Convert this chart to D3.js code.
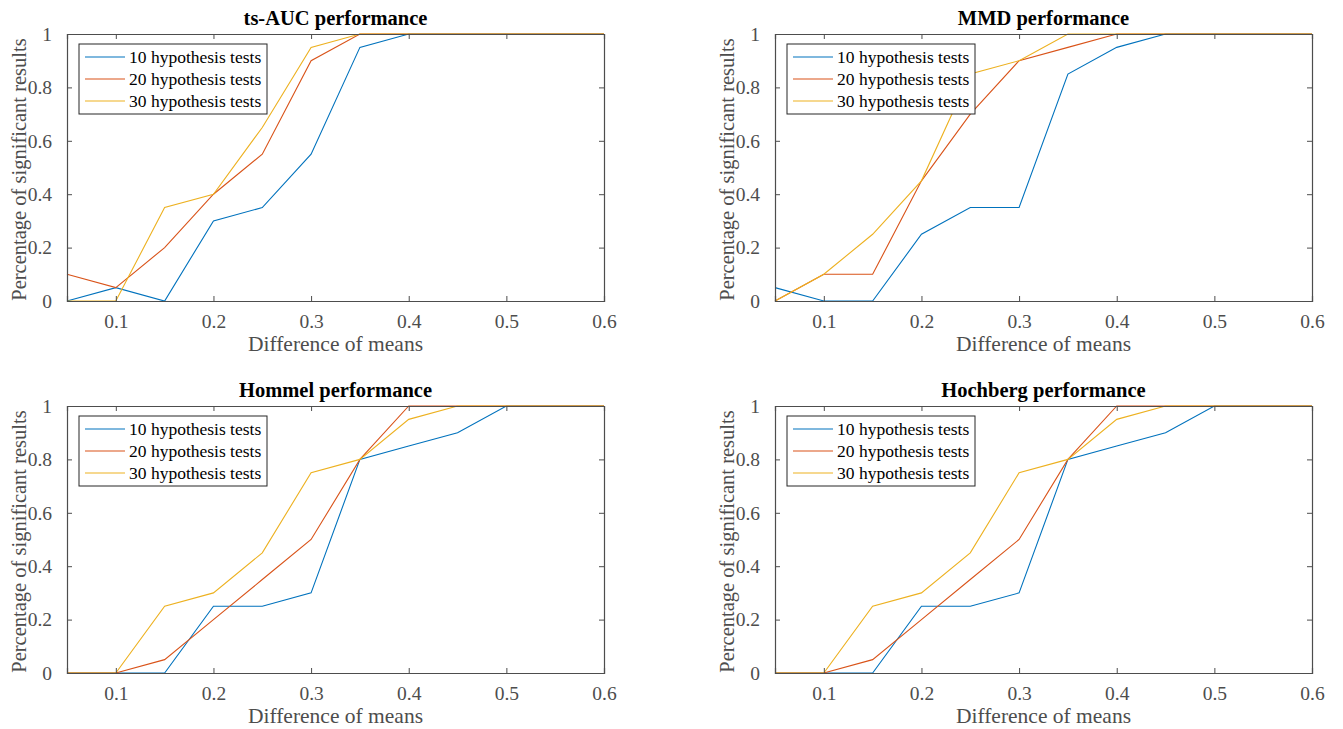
<!DOCTYPE html>
<html>
<head>
<meta charset="utf-8">
<script src="https://cdn.jsdelivr.net/npm/d3@7.9.0/dist/d3.min.js"></script>
<style>
  body { margin: 0; background: #fff; }
  svg { display: block; }
  svg text { font-family: "Liberation Serif", "Times New Roman", serif; }
</style>
</head>
<body>
<svg id="chart" width="1343" height="729"></svg>
<script>
// x values shared by every panel
const diffs = [0.05, 0.1, 0.15, 0.2, 0.25, 0.3, 0.35, 0.4, 0.45, 0.5, 0.55, 0.6];
const seriesNames = ['10 hypothesis tests', '20 hypothesis tests', '30 hypothesis tests'];
const colors = ['#0072BD', '#D95319', '#EDB120'];
const xTicks = [0.1, 0.2, 0.3, 0.4, 0.5, 0.6];
const yTicks = [0, 0.2, 0.4, 0.6, 0.8, 1];

// values
const aucTen    = [0, 0.05, 0, 0.3, 0.35, 0.55, 0.95, 1, 1, 1, 1, 1];
const aucTwenty = [0.1, 0.05, 0.2, 0.4, 0.55, 0.9, 1, 1, 1, 1, 1, 1];
const aucThirty = [0, 0, 0.35, 0.4, 0.65, 0.95, 1, 1, 1, 1, 1, 1];

const mmdTen    = [0.05, 0, 0, 0.25, 0.35, 0.35, 0.85, 0.95, 1, 1, 1, 1];
const mmdTwenty = [0, 0.1, 0.1, 0.45, 0.7, 0.9, 0.95, 1, 1, 1, 1, 1];
const mmdThirty = [0, 0.1, 0.25, 0.45, 0.85, 0.9, 1, 1, 1, 1, 1, 1];

const hommelTen    = [0, 0, 0, 0.25, 0.25, 0.3, 0.8, 0.85, 0.9, 1, 1, 1];
const hommelTwenty = [0, 0, 0.05, 0.2, 0.35, 0.5, 0.8, 1, 1, 1, 1, 1];
const hommelThirty = [0, 0, 0.25, 0.3, 0.45, 0.75, 0.8, 0.95, 1, 1, 1, 1];

const hochTen    = [0, 0, 0, 0.25, 0.25, 0.3, 0.8, 0.85, 0.9, 1, 1, 1];
const hochTwenty = [0, 0, 0.05, 0.2, 0.35, 0.5, 0.8, 1, 1, 1, 1, 1];
const hochThirty = [0, 0, 0.25, 0.3, 0.45, 0.75, 0.8, 0.95, 1, 1, 1, 1];

const panels = [
  { title: 'ts-AUC performance',   series: [aucTen, aucTwenty, aucThirty],          left: 67,  top: 34 },
  { title: 'MMD performance',      series: [mmdTen, mmdTwenty, mmdThirty],          left: 775, top: 34 },
  { title: 'Hommel performance',   series: [hommelTen, hommelTwenty, hommelThirty], left: 67,  top: 406 },
  { title: 'Hochberg performance', series: [hochTen, hochTwenty, hochThirty],       left: 775, top: 406 }
];

const W = 537, H = 267;
const axisColor = '#4d4d4d';
const serif = '"Liberation Serif", "Times New Roman", serif';
const svg = d3.select('#chart');

panels.forEach(p => {
  const g = svg.append('g').attr('transform', `translate(${p.left},${p.top})`);
  const x = d3.scaleLinear().domain([0.05, 0.6]).range([0, W]);
  const y = d3.scaleLinear().domain([0, 1]).range([H, 0]);

  // lines
  const line = d3.line().x((d, i) => x(diffs[i])).y(d => y(d));
  p.series.forEach((s, k) => {
    g.append('path')
      .datum(s)
      .attr('d', line)
      .attr('fill', 'none')
      .attr('stroke', colors[k])
      .attr('stroke-width', 1.1);
  });

  // axes (ticks inward, box on)
  const fmt = d => String(+d.toFixed(2));
  const ax = [
    g.append('g').attr('transform', `translate(0,${H})`).call(d3.axisBottom(x).tickValues(xTicks).tickSize(-5).tickPadding(13).tickFormat(fmt)),
    g.append('g').call(d3.axisTop(x).tickValues(xTicks).tickSize(-5).tickFormat('')),
    g.append('g').call(d3.axisLeft(y).tickValues(yTicks).tickSize(-5).tickPadding(15).tickFormat(fmt)),
    g.append('g').attr('transform', `translate(${W},0)`).call(d3.axisRight(y).tickValues(yTicks).tickSize(-5).tickFormat(''))
  ];
  ax.forEach(a => {
    a.attr('font-family', serif).attr('font-size', 19.5);
    a.select('.domain').attr('stroke', axisColor).attr('stroke-width', 1.2);
    a.selectAll('.tick line').attr('stroke', axisColor);
    a.selectAll('.tick text').attr('fill', axisColor);
  });

  // title + labels
  g.append('text')
    .attr('x', W / 2).attr('y', -9)
    .attr('text-anchor', 'middle')
    .attr('font-family', serif)
    .attr('font-size', 20.5).attr('font-weight', 'bold')
    .attr('fill', '#000')
    .text(p.title);
  g.append('text')
    .attr('x', W / 2).attr('y', H + 50)
    .attr('text-anchor', 'middle')
    .attr('font-family', serif)
    .attr('font-size', 21.5)
    .attr('fill', axisColor)
    .text('Difference of means');
  g.append('text')
    .attr('transform', `translate(-41,${H / 2 + 2}) rotate(-90)`)
    .attr('text-anchor', 'middle')
    .attr('font-family', serif)
    .attr('font-size', 20.5)
    .attr('fill', axisColor)
    .text('Percentage of significant results');

  // legend
  const lg = g.append('g').attr('transform', 'translate(12,10)');
  lg.append('rect')
    .attr('width', 188).attr('height', 70)
    .attr('fill', '#fff').attr('stroke', '#262626').attr('stroke-width', 1);
  seriesNames.forEach((name, k) => {
    const yy = 13 + k * 22;
    lg.append('line')
      .attr('x1', 6).attr('x2', 46).attr('y1', yy).attr('y2', yy)
      .attr('stroke', colors[k]).attr('stroke-width', 1.1);
    lg.append('text')
      .attr('x', 50).attr('y', yy + 5.5)
      .attr('font-family', serif)
      .attr('font-size', 17.5)
      .attr('fill', '#000')
      .text(name);
  });
});
</script>
</body>
</html>
